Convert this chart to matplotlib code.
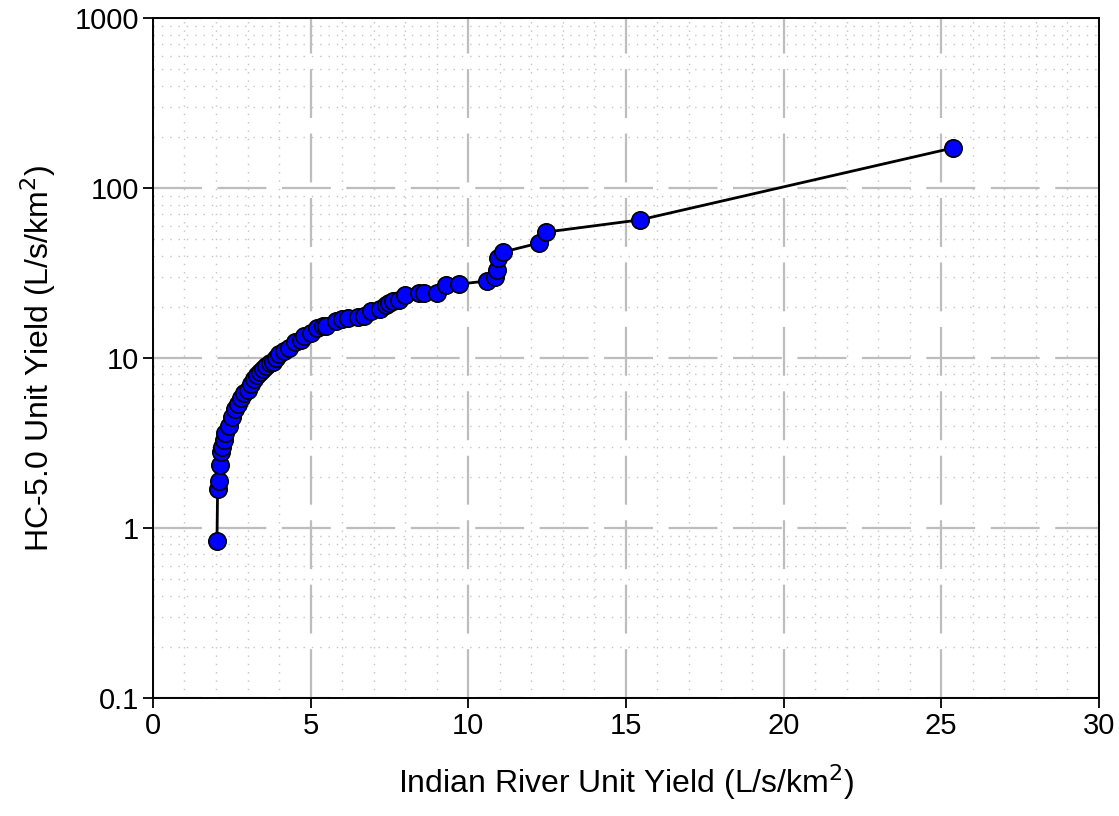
import numpy as np
import matplotlib
matplotlib.use("Agg")
import matplotlib.pyplot as plt
from matplotlib.ticker import FixedLocator, MultipleLocator, LogLocator, NullFormatter

plt.rcParams['font.family'] = ['Liberation Sans', 'DejaVu Sans']

# Indian River vs HC-5.0 unit yield (L/s/km2)
indian_river = [2.03, 2.05, 2.08, 2.12, 2.15, 2.2, 2.25, 2.3, 2.4, 2.5, 2.6, 2.7,
                2.8, 2.9, 3.0, 3.1, 3.2, 3.3, 3.4, 3.5, 3.6, 3.7, 3.8, 3.9, 4.0,
                4.15, 4.3, 4.5, 4.7, 4.8, 5.0, 5.2, 5.4, 5.5, 5.8, 6.0, 6.2, 6.5,
                6.7, 6.9, 7.2, 7.4, 7.5, 7.6, 7.8, 8.0, 8.45, 8.6, 9.0, 9.3, 9.7,
                10.6, 10.85, 10.9, 10.95, 11.1, 12.25, 12.45, 15.45, 25.37]
hc50 = [0.84, 1.7, 1.9, 2.35, 2.8, 3.0, 3.3, 3.6, 4.0, 4.5, 5.0, 5.4,
        5.8, 6.2, 6.5, 7.0, 7.5, 7.9, 8.3, 8.6, 9.0, 9.3, 9.5, 10.0, 10.5,
        11.0, 11.5, 12.5, 12.8, 13.5, 14.0, 15.0, 15.5, 15.5, 16.5, 17.0, 17.2, 17.5,
        17.6, 18.8, 19.5, 20.5, 21.0, 21.6, 22.0, 23.6, 24.0, 24.0, 24.1, 27.0, 27.2,
        28.4, 30.0, 33.0, 39.0, 42.0, 47.5, 55.0, 65.0, 172.0]

x_ticks = [0, 5, 10, 15, 20, 25, 30]
y_ticks = [0.1, 1, 10, 100, 1000]
y_labels = ['0.1', '1', '10', '100', '1000']

fig = plt.figure(figsize=(11.19, 8.16), dpi=100)
ax = fig.add_axes([0.1367, 0.1446, 0.8453, 0.8333])

ax.plot(indian_river, hc50, color='black', lw=2.0, marker='o', ms=12.5,
        mfc='#0000ff', mec='black', mew=1.2, zorder=3)

ax.set_yscale('log')
ax.set_xlim(0, 30)
ax.set_ylim(0.1, 1000)

ax.xaxis.set_major_locator(FixedLocator(x_ticks))
ax.xaxis.set_minor_locator(MultipleLocator(1))
ax.yaxis.set_major_locator(FixedLocator(y_ticks))
ax.set_yticklabels(y_labels)
ax.yaxis.set_minor_locator(LogLocator(base=10, subs=np.arange(2, 10)))
ax.yaxis.set_minor_formatter(NullFormatter())

ax.grid(which='major', color='#bdbdbd', lw=1.6, ls=(0, (22, 7)))
ax.grid(which='minor', color='#c4c4c4', lw=1.0, ls=(0, (1, 5)))
ax.set_axisbelow(True)

ax.tick_params(which='major', direction='out', length=7, width=1.3,
               labelsize=21, pad=3)
ax.tick_params(which='minor', length=0)
for s in ax.spines.values():
    s.set_linewidth(1.4)

ax.set_xlabel('Indian River Unit Yield (L/s/km$^2$)', fontsize=23, labelpad=16)
ax.set_ylabel('HC-5.0 Unit Yield (L/s/km$^2$)', fontsize=23, labelpad=12)

fig.savefig('out.png', dpi=100)
